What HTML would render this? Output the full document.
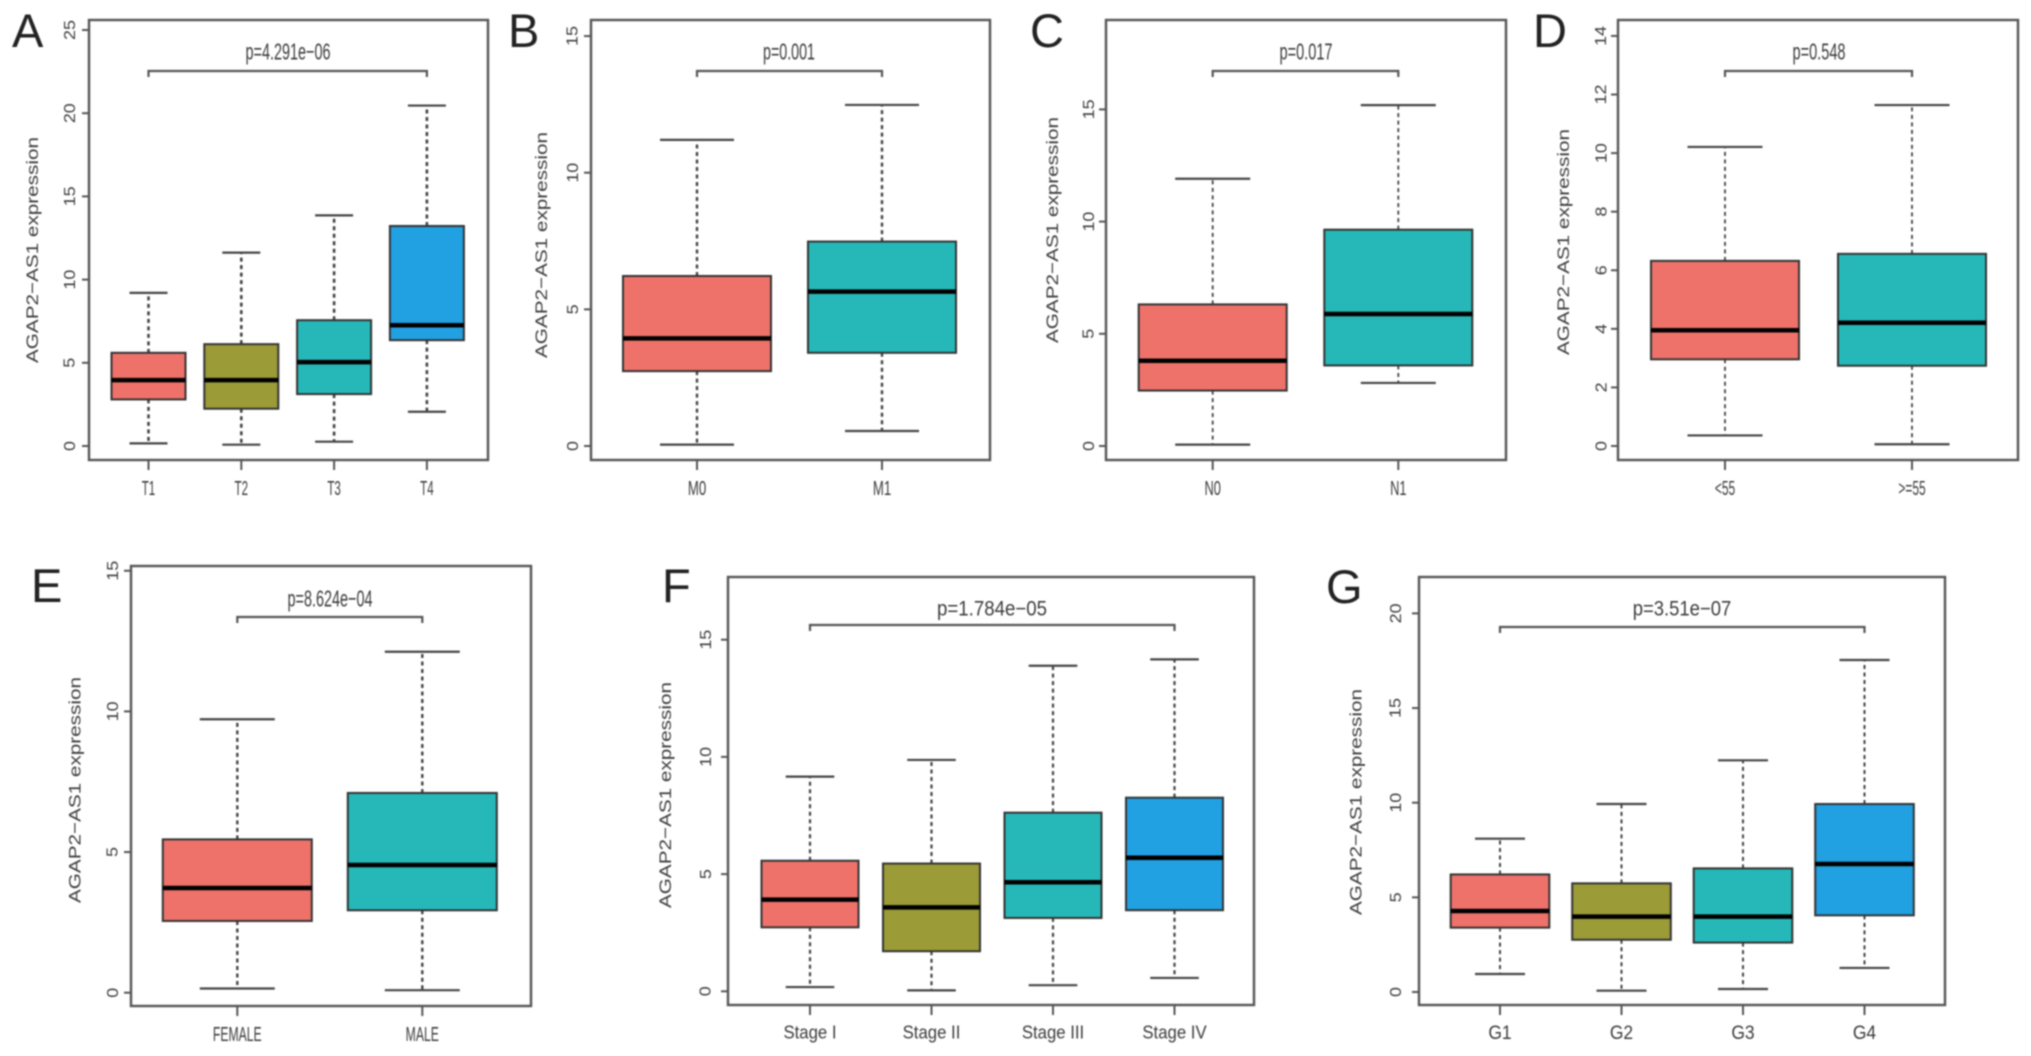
<!DOCTYPE html>
<html lang="en">
<head>
<meta charset="utf-8">
<title>AGAP2-AS1 expression boxplots</title>
<style>
html,body{margin:0;padding:0;background:#fff;width:2031px;height:1056px;overflow:hidden}
svg{display:block;filter:blur(0.8px)}
text{font-family:"Liberation Sans",sans-serif;fill:#3c3c3c}
</style>
</head>
<body>
<svg id="fig" xmlns="http://www.w3.org/2000/svg" width="2031" height="1056" viewBox="0 0 2031 1056"></svg>
<script>
// ---------- Panel A ----------
const aCategories = ['T1','T2','T3','T4'];
const aLow    = [0.16,0.08,0.26,2.06];
const aQ1     = [2.80,2.24,3.12,6.36];
const aMedian = [3.96,3.96,5.04,7.26];
const aQ3     = [5.60,6.12,7.56,13.22];
const aHigh   = [9.20,11.62,13.86,20.46];
const aTicks  = [0,5,10,15,20,25];
const aPValue = 'p=4.291e\u221206';
// ---------- Panel B ----------
const bCategories = ['M0','M1'];
const bLow    = [0.05,0.55];
const bQ1     = [2.74,3.41];
const bMedian = [3.94,5.65];
const bQ3     = [6.22,7.48];
const bHigh   = [11.20,12.48];
const bTicks  = [0,5,10,15];
const bPValue = 'p=0.001';
// ---------- Panel C ----------
const cCategories = ['N0','N1'];
const cLow    = [0.06,2.81];
const cQ1     = [2.47,3.59];
const cMedian = [3.80,5.88];
const cQ3     = [6.31,9.64];
const cHigh   = [11.91,15.19];
const cTicks  = [0,5,10,15];
const cPValue = 'p=0.017';
// ---------- Panel D ----------
const dCategories = ['<55','>=55'];
const dLow    = [0.36,0.06];
const dQ1     = [2.96,2.74];
const dMedian = [3.95,4.21];
const dQ3     = [6.32,6.56];
const dHigh   = [10.21,11.64];
const dTicks  = [0,2,4,6,8,10,12,14];
const dPValue = 'p=0.548';
// ---------- Panel E ----------
const eCategories = ['FEMALE','MALE'];
const eLow    = [0.15,0.09];
const eQ1     = [2.55,2.93];
const eMedian = [3.72,4.54];
const eQ3     = [5.45,7.10];
const eHigh   = [9.72,12.12];
const eTicks  = [0,5,10,15];
const ePValue = 'p=8.624e\u221204';
// ---------- Panel F ----------
const fCategories = ['Stage I','Stage II','Stage III','Stage IV'];
const fLow    = [0.18,0.04,0.26,0.57];
const fQ1     = [2.73,1.71,3.13,3.46];
const fMedian = [3.91,3.58,4.65,5.70];
const fQ3     = [5.57,5.45,7.62,8.26];
const fHigh   = [9.16,9.87,13.89,14.16];
const fTicks  = [0,5,10,15];
const fPValue = 'p=1.784e\u221205';
// ---------- Panel G ----------
const gCategories = ['G1','G2','G3','G4'];
const gLow    = [0.95,0.07,0.16,1.27];
const gQ1     = [3.40,2.76,2.61,4.05];
const gMedian = [4.28,3.98,3.98,6.76];
const gQ3     = [6.21,5.74,6.53,9.93];
const gHigh   = [8.10,9.93,12.24,17.54];
const gTicks  = [0,5,10,15,20];
const gPValue = 'p=3.51e\u221207';

const AXIS_TITLE = 'AGAP2\u2212AS1 expression';
const RED='#EE726A', OLIVE='#9B9B37', TEAL='#26B8B8', BLUE='#21A0E2';
const SVG_NS='http://www.w3.org/2000/svg';
const fig=document.getElementById('fig');

function add(parent,tag,attrs,txt){
  const n=document.createElementNS(SVG_NS,tag);
  for(const k in attrs){n.setAttribute(k,attrs[k]);}
  if(txt!==undefined){n.textContent=txt;}
  parent.appendChild(n);
  return n;
}
function slug(s){return String(s).toLowerCase().replace(/[^a-z0-9]+/g,'-').replace(/^-|-$/g,'')||'x';}

function drawPanel(d,g){
  const y=v=>g.zeroY-v*g.unit;
  const x=i=>g.firstX+i*g.stepX;
  const n=d.categories.length;
  const fills=n===2?[RED,TEAL]:[RED,OLIVE,TEAL,BLUE];
  const id=d.label.toLowerCase();

  const panel=add(fig,'g',{});
  
  

  const tag=add(panel,'text',{x:g.tagX,y:g.tagY,'font-size':47,style:'fill:#222'},d.label);
  
  

  // y axis
  d.ticks.forEach(t=>{
    const tick=add(panel,'line',{x1:g.left-7,x2:g.left,y1:y(t),y2:y(t),stroke:'#555','stroke-width':2});
    
    
    const lx=g.tickLabelX, ly=y(t);
    const lab=add(panel,'text',{x:lx,y:ly,dy:'0.36em','font-size':16,'text-anchor':'middle',transform:'rotate(-90 '+lx+' '+ly+')'},t);
    
    
    lab.setAttribute('textLength',lab.getComputedTextLength()*1.12);
    lab.setAttribute('lengthAdjust','spacingAndGlyphs');
  });
  const tx=g.titleX, ty=g.titleY;
  const title=add(panel,'text',{x:tx,y:ty,dy:'0.36em','font-size':17,'text-anchor':'middle',textLength:226,lengthAdjust:'spacingAndGlyphs',transform:'rotate(-90 '+tx+' '+ty+')'},AXIS_TITLE);
  
  

  // boxes
  d.categories.forEach((c,i)=>{
    const cx=x(i), key=slug(c);
    const dashW=g.dashW;
    const up=add(panel,'line',{x1:cx,x2:cx,y1:y(d.q3[i]),y2:y(d.high[i]),stroke:'#444','stroke-width':dashW,'stroke-dasharray':'4 3.5'});
    
    
    const lo=add(panel,'line',{x1:cx,x2:cx,y1:y(d.q1[i]),y2:y(d.low[i]),stroke:'#444','stroke-width':dashW,'stroke-dasharray':'4 3.5'});
    
    
    const capU=add(panel,'line',{x1:cx-g.capHalf,x2:cx+g.capHalf,y1:y(d.high[i]),y2:y(d.high[i]),stroke:'#444','stroke-width':2.2});
    
    
    const capL=add(panel,'line',{x1:cx-g.capHalf,x2:cx+g.capHalf,y1:y(d.low[i]),y2:y(d.low[i]),stroke:'#444','stroke-width':2.2});
    
    
    const box=add(panel,'rect',{x:cx-g.boxHalf,y:y(d.q3[i]),width:g.boxHalf*2,height:y(d.q1[i])-y(d.q3[i]),fill:fills[i],stroke:'#333','stroke-width':2});
    
    
    const med=add(panel,'line',{x1:cx-g.boxHalf,x2:cx+g.boxHalf,y1:y(d.median[i]),y2:y(d.median[i]),stroke:'#000','stroke-width':4.5});
    
    
    const xt=add(panel,'line',{x1:cx,x2:cx,y1:g.bottom,y2:g.bottom+10,stroke:'#555','stroke-width':2});
    
    
    const xl=add(panel,'text',{x:cx,y:g.xLabelY,dy:'0.36em','font-size':g.xFont,'text-anchor':'middle'},c);
    
    
    const natural=xl.getComputedTextLength();
    xl.setAttribute('textLength',natural*g.xSqueeze);
    xl.setAttribute('lengthAdjust','spacingAndGlyphs');
  });

  // frame
  const frame=add(panel,'rect',{x:g.left,y:g.top,width:g.right-g.left,height:g.bottom-g.top,fill:'none',stroke:'#555','stroke-width':2.4});
  
  

  // significance bracket
  const x0=x(0), x1=x(n-1);
  const br=add(panel,'path',{d:'M'+x0+' '+(g.bracketY+6)+'V'+g.bracketY+'H'+x1+'V'+(g.bracketY+6),fill:'none',stroke:'#555','stroke-width':2.2});
  
  
  const pl=add(panel,'text',{x:g.pX,y:g.pY,dy:'0.36em','font-size':g.pFont,'text-anchor':'middle',textLength:g.pW,lengthAdjust:'spacingAndGlyphs'},d.pValue);
  
  
}

drawPanel(
 {label:'A',categories:aCategories,low:aLow,q1:aQ1,median:aMedian,q3:aQ3,high:aHigh,ticks:aTicks,pValue:aPValue},
 {left:89,right:488,top:20,bottom:460,zeroY:446,unit:16.64,firstX:148.5,stepX:92.8,boxHalf:37,capHalf:19,dashW:2.6,
  tagX:12,tagY:47,tickLabelX:69,titleX:32,titleY:250,xLabelY:488,xFont:20,xSqueeze:.58,bracketY:71,pX:288,pY:51,pW:85,pFont:23});
drawPanel(
 {label:'B',categories:bCategories,low:bLow,q1:bQ1,median:bMedian,q3:bQ3,high:bHigh,ticks:bTicks,pValue:bPValue},
 {left:591,right:990,top:20,bottom:460,zeroY:446,unit:27.33,firstX:697,stepX:185,boxHalf:74,capHalf:37,dashW:2.4,
  tagX:508,tagY:47,tickLabelX:572,titleX:541,titleY:245,xLabelY:488,xFont:20,xSqueeze:.66,bracketY:71,pX:789,pY:51,pW:52,pFont:23});
drawPanel(
 {label:'C',categories:cCategories,low:cLow,q1:cQ1,median:cMedian,q3:cQ3,high:cHigh,ticks:cTicks,pValue:cPValue},
 {left:1106,right:1506,top:20,bottom:460,zeroY:446,unit:22.44,firstX:1212.7,stepX:185.6,boxHalf:74,capHalf:37.5,dashW:1.8,
  tagX:1030,tagY:47,tickLabelX:1088,titleX:1052,titleY:230,xLabelY:488,xFont:20,xSqueeze:.64,bracketY:71,pX:1306,pY:51,pW:53,pFont:23});
drawPanel(
 {label:'D',categories:dCategories,low:dLow,q1:dQ1,median:dMedian,q3:dQ3,high:dHigh,ticks:dTicks,pValue:dPValue},
 {left:1618,right:2018,top:20,bottom:460,zeroY:446,unit:29.29,firstX:1725,stepX:187,boxHalf:74,capHalf:37.5,dashW:1.8,
  tagX:1533,tagY:47,tickLabelX:1600.5,titleX:1563,titleY:242,xLabelY:488,xFont:20,xSqueeze:.6,bracketY:71,pX:1819,pY:51,pW:53,pFont:23});
drawPanel(
 {label:'E',categories:eCategories,low:eLow,q1:eQ1,median:eMedian,q3:eQ3,high:eHigh,ticks:eTicks,pValue:ePValue},
 {left:131,right:531,top:566,bottom:1006,zeroY:992.7,unit:28.13,firstX:237.3,stepX:185,boxHalf:74.5,capHalf:37.5,dashW:2.4,
  tagX:31,tagY:602,tickLabelX:112,titleX:74.5,titleY:790,xLabelY:1034,xFont:20,xSqueeze:.61,bracketY:617,pX:330,pY:598,pW:85,pFont:23});
drawPanel(
 {label:'F',categories:fCategories,low:fLow,q1:fQ1,median:fMedian,q3:fQ3,high:fHigh,ticks:fTicks,pValue:fPValue},
 {left:728,right:1254,top:577,bottom:1005,zeroY:991.3,unit:23.44,firstX:810,stepX:121.5,boxHalf:48.5,capHalf:24.3,dashW:2.2,
  tagX:662,tagY:602,tickLabelX:705,titleX:665,titleY:795,xLabelY:1032,xFont:18,xSqueeze:.93,bracketY:625,pX:992,pY:608,pW:110,pFont:21});
drawPanel(
 {label:'G',categories:gCategories,low:gLow,q1:gQ1,median:gMedian,q3:gQ3,high:gHigh,ticks:gTicks,pValue:gPValue},
 {left:1419,right:1945,top:577,bottom:1005,zeroY:992,unit:18.93,firstX:1500,stepX:121.5,boxHalf:49.3,capHalf:25,dashW:2,
  tagX:1326,tagY:603,tickLabelX:1395,titleX:1355.5,titleY:802,xLabelY:1032,xFont:19,xSqueeze:.92,bracketY:627,pX:1682,pY:608,pW:98.6,pFont:21});
</script>
</body>
</html>
